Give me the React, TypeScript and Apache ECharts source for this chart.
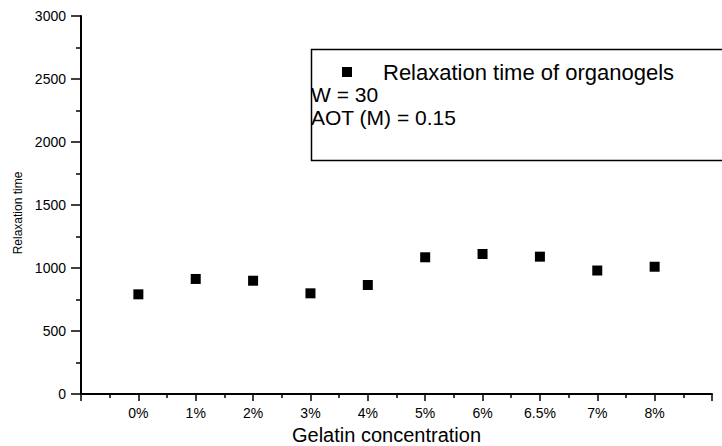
import React, { useEffect, useRef } from "react";
import * as echarts from "echarts";

const categories = ["0%", "1%", "2%", "3%", "4%", "5%", "6%", "6.5%", "7%", "8%"];
const relaxationTimes = [791, 913, 899, 799, 865, 1085, 1111, 1090, 980, 1010];
const seriesName = "Relaxation time of organogels";
const noteLines = ["W = 30", "AOT (M) = 0.15"];
const yTitle = "Relaxation time";
const xTitle = "Gelatin concentration";
const yTickInterval = 500;

const FONT = "'Liberation Sans', Arial, Helvetica, sans-serif";

export default function App() {
  const ref = useRef<HTMLDivElement>(null);
  useEffect(() => {
    if (!ref.current) return;
    const chart = echarts.init(ref.current, undefined, { renderer: "svg" });
    const data = relaxationTimes.map((v, i) => [i + 1, v]);
    chart.setOption({
      animation: false,
      backgroundColor: "#ffffff",
      textStyle: { fontFamily: FONT, color: "#000" },
      grid: { left: 81, right: 10, top: 16, bottom: 52, containLabel: false, outerBoundsMode: "none" },
      legend: {
        show: true,
        left: 337,
        top: 56,
        itemWidth: 10,
        itemHeight: 10,
        icon: "rect",
        data: [seriesName],
        textStyle: {
          fontFamily: FONT,
          fontSize: 22,
          color: "#000",
          padding: [0, 0, 0, 26],
        },
        selectedMode: false,
      },
      xAxis: {
        type: "value",
        min: 0,
        max: 11,
        interval: 1,
        name: xTitle,
        nameLocation: "middle",
        nameGap: 30,
        nameTextStyle: {
          fontFamily: FONT,
          fontSize: 20,
          lineHeight: 20,
          color: "#000",
          padding: [0, 20, 0, 0],
        },
        axisLine: { show: true, onZero: false, lineStyle: { color: "#000", width: 2 } },
        axisTick: { show: true, inside: false, length: 7, lineStyle: { color: "#000", width: 1.5 } },
        minorTick: { show: true, splitNumber: 2, length: 4, lineStyle: { color: "#000", width: 1.5 } },
        splitLine: { show: false },
        axisLabel: {
          margin: 12,
          fontFamily: FONT,
          fontSize: 14,
          color: "#000",
          formatter: (v: number) => {
            const idx = Math.round(v) - 1;
            return Number.isInteger(v) && idx >= 0 && idx < categories.length ? categories[idx] : "";
          },
        },
      },
      yAxis: {
        type: "value",
        min: 0,
        max: 3000,
        interval: yTickInterval,
        axisLine: { show: true, lineStyle: { color: "#000", width: 2 } },
        axisTick: { show: true, inside: false, length: 10, lineStyle: { color: "#000", width: 1.5 } },
        minorTick: { show: true, splitNumber: 2, length: 5, lineStyle: { color: "#000", width: 1.5 } },
        splitLine: { show: false },
        axisLabel: {
          margin: 15,
          fontFamily: FONT,
          fontSize: 14,
          color: "#000",
          formatter: (v: number) => String(v),
        },
      },
      series: [
        {
          name: seriesName,
          type: "scatter",
          symbol: "rect",
          symbolSize: 10,
          itemStyle: { color: "#000", opacity: 1 },
          data,
        },
      ],
      graphic: [
        {
          type: "rect",
          left: 309,
          top: 47,
          shape: { width: 430, height: 111 },
          style: { fill: "none", stroke: "#000", lineWidth: 1.5 },
          z: 10,
        },
        {
          type: "text",
          left: 311,
          top: 84,
          style: { text: noteLines[0], font: `21px ${FONT}`, fill: "#000" },
          z: 10,
        },
        {
          type: "text",
          left: 311,
          top: 107,
          style: { text: noteLines[1], font: `21px ${FONT}`, fill: "#000" },
          z: 10,
        },
        {
          type: "text",
          x: 18,
          y: 213,
          rotation: Math.PI / 2,
          style: {
            text: yTitle,
            font: `12px ${FONT}`,
            fill: "#000",
            align: "center",
            verticalAlign: "middle",
          },
          z: 10,
        },
      ],
    });
    return () => chart.dispose();
  }, []);
  return <div ref={ref} style={{ width: 722, height: 446, position: "absolute", left: 0, top: 0 }} />;
}
